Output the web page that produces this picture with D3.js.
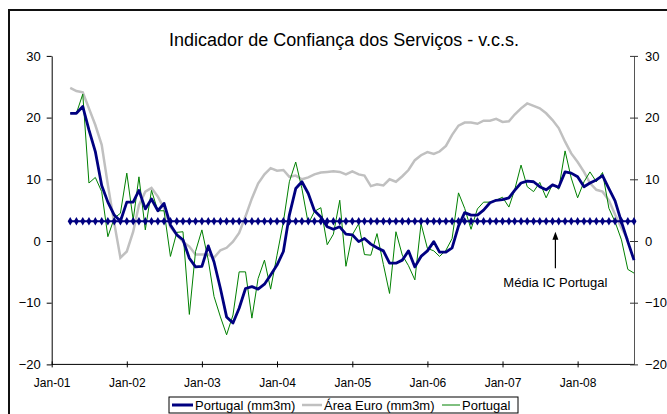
<!DOCTYPE html>
<html>
<head>
<meta charset="utf-8">
<script src="https://cdn.jsdelivr.net/npm/d3@7"></script>
<style>
body{margin:0;background:#fff;}
text{font-family:"Liberation Sans",Arial,sans-serif;fill:#000;}
</style>
</head>
<body>
<svg id="chart" width="667" height="414"></svg>
<script>
// monthly data, first point = Apr 2001
var startMonth = new Date(2001, 3, 1);

var portugal = [20.7, 20.7, 23.8, 9.4, 10.3, 8.0, 0.7, 3.7, 4.5, 11.0,
	3.4, 10.4, 1.8, 8.2, 4.9, 4.9, -2.5, 1.4, 1.5, -11.9,
	-1.7, 1.8, -3.1, -9.0, -12.3, -15.2, -12.0, -5.0, -5.0, -12.5,
	-6.1, -3.1, -7.8, -2.3, 3.1, 9.6, 12.8, 8.5, 2.8, 4.8,
	5.4, -0.6, 1.1, 6.6, -4.1, 1.0, 2.8, -2.2, -2.3, 1.2,
	-3.8, -8.5, 1.5, -2.3, -4.0, -6.3, 2.8, -1.2, -1.6, -2.5,
	-1.5, 0.4, 7.8, 5.3, 1.9, 5.2, 6.3, 6.3, 6.6, 7.1,
	5.5, 8.3, 12.3, 8.8, 8.0, 9.5, 7.0, 9.2, 8.4, 14.6,
	10.2, 7.0, 9.6, 11.2, 9.6, 11.1, 5.3, 3.1, 0.2, -4.6, -5.2];

var portugalMM3M = [20.7, 20.7, 21.8, 18.0, 14.5, 9.0, 6.3, 4.2, 3.2, 6.3,
	6.3, 8.2, 5.2, 6.8, 4.9, 6.1, 2.6, 1.0, 0.2, -2.8,
	-4.2, -4.1, -0.8, -3.4, -7.7, -12.3, -13.3, -10.9, -7.7, -7.4,
	-7.8, -7.0, -5.5, -3.9, -1.7, 4.2, 8.5, 9.6, 7.7, 4.9,
	3.9, 2.3, 1.9, 2.3, 1.1, 1.0, -0.1, 0.4, -0.5, -1.1,
	-1.6, -3.6, -3.6, -3.1, -1.6, -4.2, -2.5, -1.6, -0.1, -1.8,
	-1.8, -1.1, 2.4, 4.6, 4.2, 4.2, 5.0, 6.2, 6.6, 6.7,
	7.0, 8.2, 9.4, 9.7, 9.6, 8.8, 8.3, 9.1, 8.7, 11.2,
	11.0, 10.4, 8.8, 9.4, 9.9, 10.6, 8.5, 6.5, 3.1, -0.1, -3.1];

var euroMM3M = [24.8, 24.3, 24.1, 21.5, 18.8, 15.6, 9.1, 2.9, -2.7, -1.7,
	1.5, 5.8, 8.0, 8.6, 7.2, 5.3, 2.3, 1.0, -0.1, -0.9,
	-2.2, -2.2, -2.2, -2.7, -1.5, -1.1, -0.1, 1.3, 4.0, 6.9,
	9.3, 10.8, 11.8, 11.4, 11.5, 10.4, 10.6, 10.0, 10.3, 10.8,
	11.1, 11.2, 11.3, 11.2, 10.8, 11.3, 10.8, 10.6, 8.9, 9.2,
	9.0, 10.0, 9.6, 10.5, 11.5, 13.1, 13.9, 14.4, 14.1, 14.5,
	15.4, 17.2, 18.7, 19.2, 19.2, 19.0, 19.5, 19.5, 19.8, 19.3,
	19.4, 20.5, 21.5, 22.3, 21.9, 21.5, 20.7, 19.6, 18.3, 16.1,
	14.2, 12.8, 11.2, 9.4, 8.3, 8.0, 6.6, 4.3, 2.1, 0.2];

var mediaIC = 3.2;
var yTicks = [-20, -10, 0, 10, 20, 30];
var xTickLabels = ["Jan-01", "Jan-02", "Jan-03", "Jan-04", "Jan-05", "Jan-06", "Jan-07", "Jan-08"];
var seriesNames = ["Portugal (mm3m)", "\u00c1rea Euro (mm3m)", "Portugal"];
var title = "Indicador de Confian\u00e7a dos Servi\u00e7os - v.c.s.";
var noteText = "M\u00e9dia IC Portugal";

var svg = d3.select("#chart");

var months = d3.timeMonth.range(startMonth, d3.timeMonth.offset(startMonth, portugal.length));

var x = d3.scaleTime().domain([new Date(2001, 0, 1), new Date(2008, 9, 1)]).range([51.7, 634]);
var y = d3.scaleLinear().domain([-20, 30]).range([364.4, 55.9]);

// outer frame
svg.append("rect").attr("x", 9).attr("y", 10).attr("width", 700).attr("height", 420)
	.attr("fill", "none").attr("stroke", "#111").attr("stroke-width", 2);

svg.append("text").attr("x", 344).attr("y", 46).attr("text-anchor", "middle")
	.style("font-size", "18px").text(title);

// axes
var xTicks = d3.timeYear.range(new Date(2001, 0, 1), new Date(2008, 1, 1));

var gx = svg.append("g").attr("transform", "translate(0," + y(-20) + ")")
	.call(d3.axisBottom(x).tickValues(xTicks).tickSize(3).tickPadding(11)
		.tickFormat(function(d, i){ return xTickLabels[i]; }));
gx.selectAll(".tick line").attr("y1", -3);
gx.select(".domain").attr("d", "M" + x.range()[0] + ",0H" + x.range()[1]);
gx.selectAll(".tick text").style("font-size", "12px");

var gl = svg.append("g").attr("transform", "translate(" + x.range()[0] + ",0)")
	.call(d3.axisLeft(y).tickValues(yTicks).tickSize(5).tickPadding(6).tickSizeOuter(0));

var gr = svg.append("g").attr("transform", "translate(" + x.range()[1] + ",0)")
	.call(d3.axisRight(y).tickValues(yTicks).tickSize(4).tickPadding(7).tickSizeOuter(0));
gr.selectAll(".tick line").attr("x1", -4);
gr.select(".domain").attr("stroke", "#555");
gr.selectAll(".tick line").attr("stroke", "#333");

gl.selectAll(".tick text").style("font-size", "13px");
gr.selectAll(".tick text").style("font-size", "13px");
svg.selectAll(".tick text").attr("fill", "#000")
	.style("font-family", "'Liberation Sans', Arial, sans-serif");

// series
function lineFor(values){
	return d3.line()
		.x(function(d, i){ return x(months[i]); })
		.y(function(d){ return y(d); })(values);
}

svg.append("path").attr("d", lineFor(euroMM3M))
	.attr("fill", "none").attr("stroke", "#c0c0c0").attr("stroke-width", 2.5);

svg.append("path").attr("d", lineFor(portugal))
	.attr("fill", "none").attr("stroke", "#008000").attr("stroke-width", 1);

svg.append("path").attr("d", lineFor(portugalMM3M))
	.attr("fill", "none").attr("stroke", "#000080").attr("stroke-width", 2.8)
	.attr("stroke-linejoin", "round");

// average line with diamond markers
var meanData = months.map(function(){ return mediaIC; });
svg.append("path").attr("d", lineFor(meanData))
	.attr("fill", "none").attr("stroke", "#000080").attr("stroke-width", 2);
svg.append("g").selectAll("path")
	.data(meanData).enter().append("path")
	.attr("transform", function(d, i){ return "translate(" + x(months[i]) + "," + y(d) + ")"; })
	.attr("d", d3.symbol().type(d3.symbolDiamond).size(22))
	.attr("fill", "#000080");

// annotation
var noteX = x(new Date(2007, 8, 15));
svg.append("line").attr("x1", noteX).attr("x2", noteX)
	.attr("y1", y(0.9)).attr("y2", y(-4.4))
	.attr("stroke", "#000").attr("stroke-width", 1.2);
svg.append("path")
	.attr("d", "M" + noteX + "," + y(1.5) + "l-3,8h6z")
	.attr("fill", "#000");
svg.append("text").attr("x", noteX).attr("y", y(-7.5)).attr("text-anchor", "middle")
	.style("font-size", "13px").text(noteText);

// legend
var legend = svg.append("g");
legend.append("rect").attr("x", 169).attr("y", 397).attr("width", 349).attr("height", 16)
	.attr("fill", "#fff").attr("stroke", "#000").attr("stroke-width", 1);
var legendItems = [
	{name: seriesNames[0], color: "#000080", width: 3, x1: 172, x2: 193},
	{name: seriesNames[1], color: "#c0c0c0", width: 2.5, x1: 302, x2: 322},
	{name: seriesNames[2], color: "#008000", width: 1, x1: 442, x2: 460}
];
legendItems.forEach(function(d){
	legend.append("line").attr("x1", d.x1).attr("x2", d.x2).attr("y1", 405).attr("y2", 405)
		.attr("stroke", d.color).attr("stroke-width", d.width);
	legend.append("text").attr("x", d.x2 + 2).attr("y", 410)
		.style("font-size", "13px").text(d.name);
});
</script>
</body>
</html>
